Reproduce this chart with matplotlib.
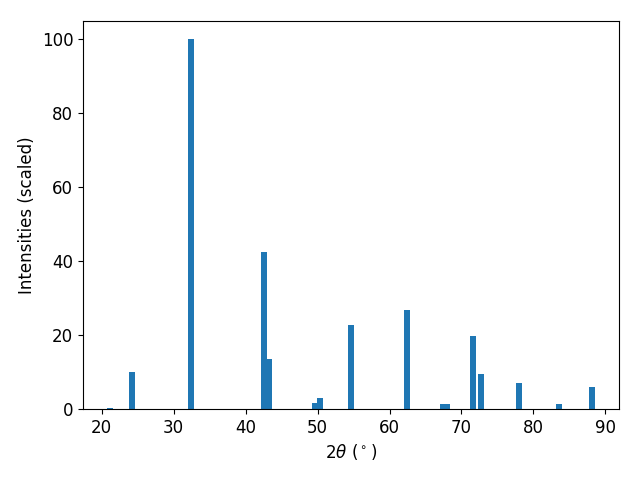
import matplotlib
matplotlib.use("Agg")
import matplotlib.pyplot as plt

two_theta = [21.2, 24.2, 32.4, 42.6, 43.3, 49.6, 50.3, 54.6, 62.4, 67.4, 68.0, 71.6, 72.7, 78.0, 83.6, 88.1]
intensity = [0.4, 10.0, 100.0, 42.5, 13.5, 1.5, 3.0, 22.8, 26.8, 1.3, 1.3, 19.8, 9.5, 7.0, 1.3, 6.0]

plt.rcParams['font.size'] = 12
fig, ax = plt.subplots(figsize=(6.4, 4.8), dpi=100)
ax.bar(two_theta, intensity, width=0.8, color='#1f77b4')
ax.set_xlabel(r'$2\theta$ ($^\circ$)')
ax.set_ylabel('Intensities (scaled)')
fig.subplots_adjust(left=83/640, right=619/640, top=1-21/480, bottom=1-409/480)
fig.savefig('out.png')
